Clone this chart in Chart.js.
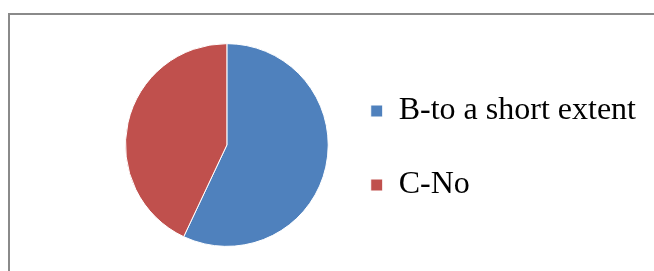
<!DOCTYPE html>
<html>
<head>
<meta charset="utf-8">
<script src="https://cdn.jsdelivr.net/npm/chart.js@4.4.0/dist/chart.umd.min.js"></script>
<style>
  html, body { margin: 0; padding: 0; background: #ffffff; overflow: hidden; }
  #wrap { position: relative; width: 654px; height: 271px; }
  #frame { position: absolute; left: 8px; top: 13px; width: 700px; height: 300px;
           border-top: 2px solid #8a8a8a; border-left: 2px solid #8a8a8a; box-sizing: border-box; }
  canvas { position: absolute; left: 0; top: 0; }
</style>
</head>
<body>
<div id="wrap">
  <div id="frame"></div>
  <canvas id="c" width="654" height="271"></canvas>
</div>
<script>
const categories = ["B-to a short extent", "C-No"];
const values = [57, 43];
const colors = ["#4F81BD", "#C0504D"];

new Chart(document.getElementById("c"), {
  type: "pie",
  data: {
    labels: categories,
    datasets: [{
      data: values,
      backgroundColor: colors,
      borderColor: "#ffffff",
      borderWidth: 1
    }]
  },
  options: {
    responsive: false,
    devicePixelRatio: 1,
    animation: false,
    layout: { padding: { left: 125, right: 8, top: 43, bottom: 24 } },
    plugins: {
      tooltip: { enabled: false },
      legend: {
        position: "right",
        align: "center",
        maxWidth: 1000,
        title: { display: true, text: " ", padding: 0, font: { size: 5 } },
        labels: {
          boxWidth: 12,
          boxHeight: 12,
          padding: 42,
          color: "#000000",
          font: { family: "'Liberation Serif', 'Times New Roman', serif", size: 32 }
        }
      }
    }
  }
});
</script>
</body>
</html>
